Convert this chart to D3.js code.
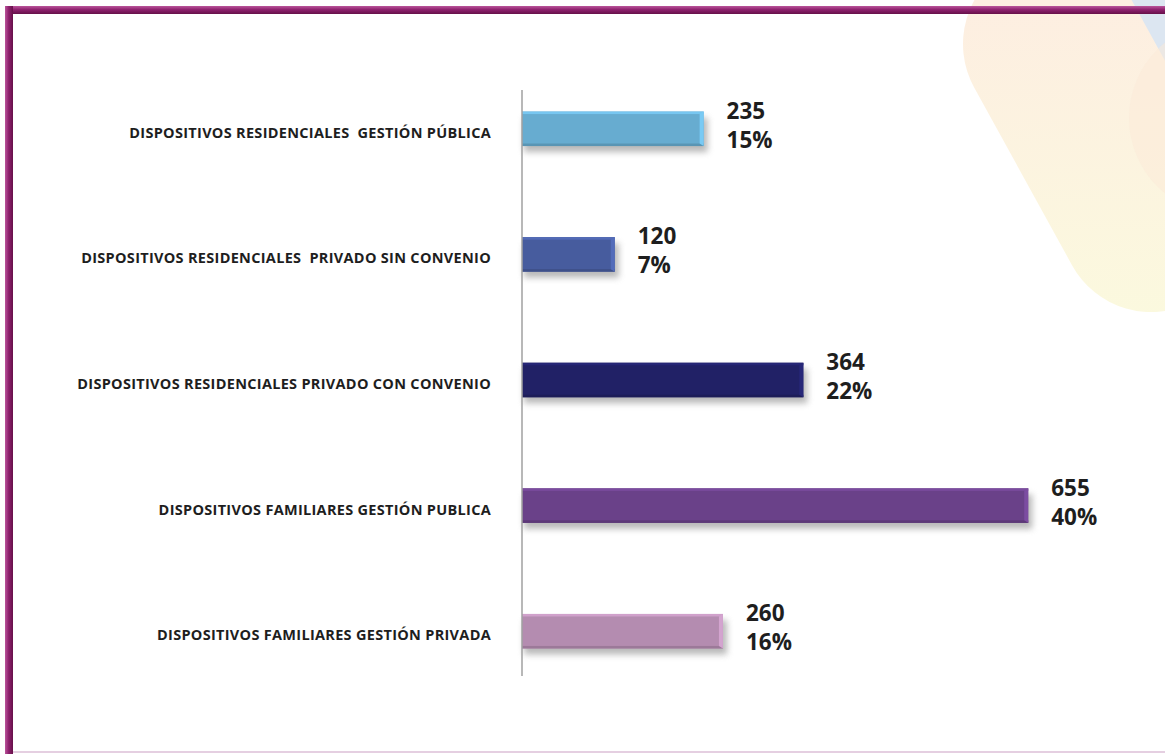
<!DOCTYPE html>
<html>
<head>
<meta charset="utf-8">
<style>
    body { margin: 0; background: #fff; }
    svg { display: block; }
    .cat { font-family: "Open Sans", sans-serif; font-weight: 700; fill: #1e1e1e; white-space: pre; }
    .val { font-family: "Open Sans", sans-serif; font-weight: 700; fill: #1e1e1e; }
</style>
</head>
<body>
<div id="vis"></div>

<script src="https://d3js.org/d3.v7.min.js"></script>
<script>
    // chart data, top to bottom
    const categories = [
        "DISPOSITIVOS RESIDENCIALES  GESTIÓN PÚBLICA",
        "DISPOSITIVOS RESIDENCIALES  PRIVADO SIN CONVENIO",
        "DISPOSITIVOS RESIDENCIALES PRIVADO CON CONVENIO",
        "DISPOSITIVOS FAMILIARES GESTIÓN PUBLICA",
        "DISPOSITIVOS FAMILIARES GESTIÓN PRIVADA"
    ];
    const values = [235, 120, 364, 655, 260];
    const percents = [15, 7, 22, 40, 16];
    const colors = ["#67acd0", "#475c9e", "#212166", "#6a4189", "#b48cb0"];

    const W = 1165, H = 754;
    const axisX = 522;

    const svg = d3.select("#vis")
        .append("svg")
        .attr("width", W)
        .attr("height", H);

    const defs = svg.append("defs");

    // soft shadow under the bars
    const shadow = defs.append("filter").attr("id", "shadow")
        .attr("x", "-10%").attr("y", "-30%").attr("width", "130%").attr("height", "190%");
    shadow.append("feGaussianBlur").attr("stdDeviation", 3);

    // background decoration, top right
    const peach = defs.append("linearGradient").attr("id", "peach")
        .attr("gradientUnits", "userSpaceOnUse")
        .attr("x1", 0).attr("y1", 0).attr("x2", 0).attr("y2", 320);
    peach.append("stop").attr("offset", 0).attr("stop-color", "#fdeee1");
    peach.append("stop").attr("offset", 1).attr("stop-color", "#fbf9de");

    svg.append("path")
        .attr("d", "M1108,0 L1165,0 L1165,74 Z")
        .attr("fill", "#dce6f1");
    svg.append("line")
        .attr("x1", 1053).attr("y1", 44).attr("x2", 1151).attr("y2", 222)
        .attr("stroke", "url(#peach)")
        .attr("stroke-width", 180)
        .attr("stroke-linecap", "round");
    svg.append("circle")
        .attr("cx", 1226).attr("cy", 118).attr("r", 97)
        .attr("fill", "#fbe9d8").attr("opacity", 0.5);

    // purple frame
    const frameV = defs.append("linearGradient").attr("id", "frameV")
        .attr("x1", 0).attr("y1", 0).attr("x2", 0).attr("y2", 1);
    frameV.append("stop").attr("offset", 0).attr("stop-color", "#bb559b");
    frameV.append("stop").attr("offset", 0.45).attr("stop-color", "#8f226f");
    frameV.append("stop").attr("offset", 1).attr("stop-color", "#661049");
    const frameH = defs.append("linearGradient").attr("id", "frameH")
        .attr("x1", 0).attr("y1", 0).attr("x2", 1).attr("y2", 0);
    frameH.append("stop").attr("offset", 0).attr("stop-color", "#bb559b");
    frameH.append("stop").attr("offset", 0.45).attr("stop-color", "#8f226f");
    frameH.append("stop").attr("offset", 1).attr("stop-color", "#661049");

    svg.append("rect").attr("x", 5).attr("y", 6).attr("width", W - 5).attr("height", 8)
        .attr("fill", "url(#frameV)");
    svg.append("rect").attr("x", 5).attr("y", 6).attr("width", 8).attr("height", H - 6)
        .attr("fill", "url(#frameH)");
    svg.append("line").attr("x1", 13).attr("x2", W).attr("y1", 752).attr("y2", 752)
        .attr("stroke", "#dcbfd7").attr("stroke-width", 1.5);

    // scales
    const x = d3.scaleLinear()
        .domain([0, 700])
        .range([axisX, axisX + 541]);

    const y = d3.scaleBand()
        .domain(categories)
        .range([66, 694])
        .paddingInner(0.7254)
        .paddingOuter(0.3627);

    const rows = categories.map((c, i) => ({cat: c, value: values[i], pct: percents[i], color: colors[i]}));

    const bars = svg.append("g").selectAll("g")
        .data(rows)
        .enter()
        .append("g");

    // shadow
    bars.append("rect")
        .attr("x", d => x(0) + 2)
        .attr("y", d => y(d.cat) + 6)
        .attr("width", d => x(d.value) - x(0) + 2)
        .attr("height", y.bandwidth())
        .attr("fill", "#8a8a8a")
        .attr("opacity", 0.6)
        .attr("filter", "url(#shadow)");

    // bar body
    bars.append("rect")
        .attr("x", x(0))
        .attr("y", d => y(d.cat))
        .attr("width", d => x(d.value) - x(0))
        .attr("height", y.bandwidth())
        .attr("fill", d => d.color);

    // bevel: lighter top and right edges, darker bottom
    bars.append("rect")
        .attr("x", x(0))
        .attr("y", d => y(d.cat))
        .attr("width", d => x(d.value) - x(0))
        .attr("height", 2.5)
        .attr("fill", d => d3.color(d.color).brighter(0.4));
    bars.append("rect")
        .attr("x", x(0))
        .attr("y", d => y(d.cat) + y.bandwidth() - 2.5)
        .attr("width", d => x(d.value) - x(0))
        .attr("height", 2.5)
        .attr("fill", d => d3.color(d.color).darker(0.4));
    bars.append("path")
        .attr("d", d => {
            let x1 = x(d.value), y0 = y(d.cat), h = y.bandwidth();
            return "M" + (x1 - 4) + "," + (y0 + 2.5) + "L" + x1 + "," + y0 + "L" + x1 + "," + (y0 + h) +
                "L" + (x1 - 4) + "," + (y0 + h - 2.5) + "Z";
        })
        .attr("fill", d => d3.color(d.color).brighter(0.45));

    // vertical axis line
    svg.append("line")
        .attr("x1", axisX).attr("x2", axisX)
        .attr("y1", 90).attr("y2", 676)
        .attr("stroke", "#a0a0a0")
        .attr("stroke-width", 1.5);

    // category labels
    svg.append("g").selectAll("text")
        .data(rows)
        .enter()
        .append("text")
        .attr("class", "cat")
        .attr("x", 491)
        .attr("y", d => y(d.cat) + y.bandwidth() / 2 + 9)
        .attr("text-anchor", "end")
        .style("font-size", "14.5px")
        .style("letter-spacing", "0.3px")
        .text(d => d.cat);

    // value and percent labels
    const vals = svg.append("g").selectAll("text")
        .data(rows)
        .enter()
        .append("text")
        .attr("class", "val")
        .style("font-size", "22.5px")
        .attr("x", d => x(d.value) + 23)
        .attr("y", d => y(d.cat) + y.bandwidth() / 2 - 10);
    vals.append("tspan").text(d => d.value);
    vals.append("tspan")
        .attr("x", d => x(d.value) + 23)
        .attr("dy", 29)
        .text(d => d.pct + "%");
</script>
</body>
</html>
